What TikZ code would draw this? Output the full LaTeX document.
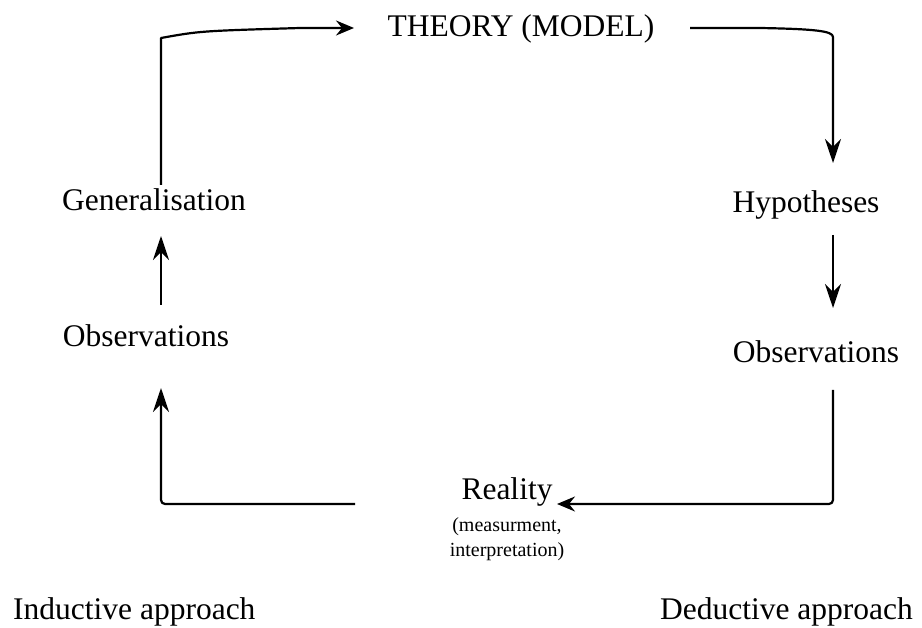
\documentclass[tikz,border=0pt]{standalone}
\usepackage{fontspec}
\setmainfont{Liberation Serif}
\usetikzlibrary{arrows.meta}
\begin{document}
\begin{tikzpicture}[x=1pt,y=-1pt,
 lbl/.style={font=\fontsize{31.5}{36}\selectfont, inner sep=0pt, anchor=base},
 small/.style={font=\fontsize{20}{24}\selectfont, inner sep=0pt, anchor=base},
 conn/.style={line width=2.2pt, line join=round},
 vtip/.style={-{Stealth[length=24pt,width=16pt,inset=8pt]}},
 htip/.style={-{Stealth[length=18pt,width=15pt,inset=6pt]}}]
\useasboundingbox (0,0) rectangle (922,628);
\node[lbl] (theory) at (521,37) {THEORY (MODEL)};
\node[lbl] (gen) at (154,211) {Generalisation};
\node[lbl] (obsL) at (146,347) {Observations};
\node[lbl] (hyp) at (806,213) {Hypotheses};
\node[lbl] (obsR) at (816,363) {Observations};
\node[lbl] (real) at (507,500) {Reality};
\node[small] (meas) at (507,531) {(measurment,};
\node[small] (interp) at (507,556) {interpretation)};
\node[lbl, anchor=base west] (ind) at (13,619) {Inductive approach};
\node[lbl, anchor=base east] (ded) at (913,619) {Deductive approach};
% connector end points
\coordinate (genTop) at (161,185);
\coordinate (tl) at (161,38);
\coordinate (thIn) at (354,28);
\coordinate (thOut) at (690,28);
\coordinate (tr) at (833,37);
\coordinate (hypIn) at (833,163);
\coordinate (hypOut) at (833,235);
\coordinate (obsRIn) at (833,308);
\coordinate (obsROut) at (833,390);
\coordinate (br) at (833,504);
\coordinate (realIn) at (557,504);
\coordinate (realOut) at (355,504);
\coordinate (bl) at (161,504);
\coordinate (obsLIn) at (161,388);
\coordinate (obsLOut) at (161,305);
\coordinate (genIn) at (161,236);
% connectors
\draw[conn,htip] (genTop) -- (tl) .. controls (200,31) .. (300,28) -- (thIn);
\draw[conn,vtip] (thOut) -- (760,28) .. controls (815,29) and (833,31) .. (tr) -- (hypIn);
\draw[conn,vtip] (hypOut) -- (obsRIn);
\draw[conn,htip,rounded corners=4pt] (obsROut) -- (br) -- (realIn);
\draw[conn,vtip,rounded corners=4pt] (realOut) -- (bl) -- (obsLIn);
\draw[conn,vtip] (obsLOut) -- (genIn);
\end{tikzpicture}
\end{document}
